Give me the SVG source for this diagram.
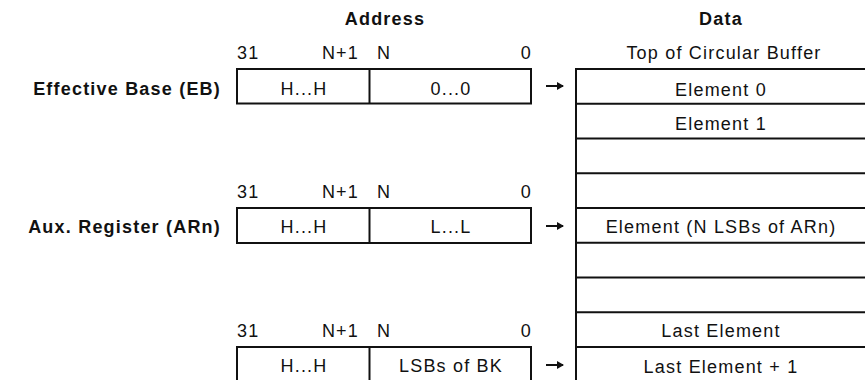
<svg xmlns="http://www.w3.org/2000/svg" width="865" height="380" viewBox="0 0 865 380">
<style>
  text { font-family: "Liberation Sans", Arial, sans-serif; font-size: 18px; fill: #111; letter-spacing: 1.2px; }
  .b { font-weight: bold; }
  .m { text-anchor: middle; }
  .e { text-anchor: end; }
  .box { fill: #fff; stroke: #111; stroke-width: 2; }
  .ln { stroke: #111; stroke-width: 2; fill: none; }
  .arr { stroke: #111; stroke-width: 2; fill: none; marker-end: url(#ah); }
</style>
<defs>
  <marker id="ah" markerWidth="8" markerHeight="8" refX="6" refY="4" orient="auto" markerUnits="userSpaceOnUse">
    <path d="M0,0 L7,4 L0,8 Z" fill="#111"/>
  </marker>
</defs>
<rect width="865" height="380" fill="#fff"/>

<g id="headers">
  <text class="b m" x="385" y="25">Address</text>
  <text class="b m" x="721" y="25">Data</text>
</g>

<g id="reg-eb">
  <text class="b e" x="221" y="95">Effective Base (EB)</text>
  <text x="237" y="59">31</text>
  <text class="e" x="359" y="59">N+1</text>
  <text x="377" y="59">N</text>
  <text class="e" x="532" y="59">0</text>
  <rect class="box" x="237" y="69" width="294" height="34.5"/>
  <line class="ln" x1="369.5" y1="69" x2="369.5" y2="103.5"/>
  <text class="m" x="304" y="95">H...H</text>
  <text class="m" x="451" y="95">0...0</text>
</g>

<g id="reg-arn">
  <text class="b e" x="221" y="233">Aux. Register (ARn)</text>
  <text x="237" y="198">31</text>
  <text class="e" x="359" y="198">N+1</text>
  <text x="377" y="198">N</text>
  <text class="e" x="532" y="198">0</text>
  <rect class="box" x="237" y="208" width="294" height="35"/>
  <line class="ln" x1="369.5" y1="208" x2="369.5" y2="243"/>
  <text class="m" x="304" y="233">H...H</text>
  <text class="m" x="451" y="233">L...L</text>
</g>

<g id="reg-bk">
  <text x="237" y="337">31</text>
  <text class="e" x="359" y="337">N+1</text>
  <text x="377" y="337">N</text>
  <text class="e" x="532" y="337">0</text>
  <path class="ln" d="M237,382 V347 H531 V382"/>
  <line class="ln" x1="369.5" y1="347" x2="369.5" y2="382"/>
  <text class="m" x="304" y="372">H...H</text>
  <text class="m" x="451" y="372">LSBs of BK</text>
</g>

<g id="data-buffer">
  <text class="m" x="724" y="59">Top of Circular Buffer</text>
  <line class="ln" x1="576" y1="69" x2="576" y2="382"/>
  <line class="ln" x1="575" y1="69" x2="865" y2="69"/>
  <line class="ln" x1="575" y1="103.75" x2="865" y2="103.75"/>
  <line class="ln" x1="575" y1="138.5" x2="865" y2="138.5"/>
  <line class="ln" x1="575" y1="173.25" x2="865" y2="173.25"/>
  <line class="ln" x1="575" y1="208" x2="865" y2="208"/>
  <line class="ln" x1="575" y1="242.75" x2="865" y2="242.75"/>
  <line class="ln" x1="575" y1="277.5" x2="865" y2="277.5"/>
  <line class="ln" x1="575" y1="312.25" x2="865" y2="312.25"/>
  <line class="ln" x1="575" y1="347" x2="865" y2="347"/>
  <text class="m" x="721" y="96">Element 0</text>
  <text class="m" x="721" y="130">Element 1</text>
  <text class="m" x="721" y="233">Element (N LSBs of ARn)</text>
  <text class="m" x="721" y="337">Last Element</text>
  <text class="m" x="721" y="373">Last Element + 1</text>
</g>

<g id="connectors">
  <line class="arr" x1="546" y1="86" x2="563" y2="86"/>
  <line class="arr" x1="546" y1="226" x2="563" y2="226"/>
  <line class="arr" x1="546" y1="365" x2="563" y2="365"/>
</g>
</svg>
